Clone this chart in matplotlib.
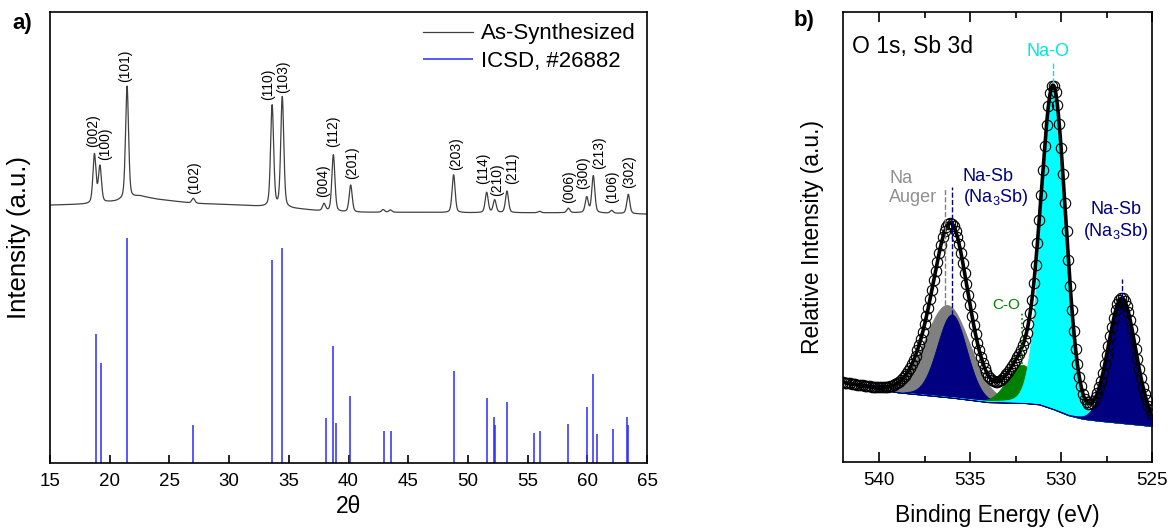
import numpy as np
import matplotlib.pyplot as plt

plt.rcParams['font.family'] = ['Liberation Sans', 'DejaVu Sans']
plt.rcParams['mathtext.default'] = 'regular'

# ---- panel a: XRD (intensity in axis fraction)
xrd_pos = [18.72, 19.18, 21.45, 27.0, 33.6, 34.45, 37.95, 38.73, 40.18, 42.9, 43.5,
           48.8, 51.57, 52.24, 53.27, 56.0, 58.41, 59.95, 60.5, 62.04, 63.43]
xrd_amp = [0.108, 0.080, 0.250, 0.011, 0.225, 0.245, 0.016, 0.126, 0.060, 0.006, 0.005,
           0.084, 0.045, 0.028, 0.048, 0.003, 0.010, 0.034, 0.082, 0.006, 0.043]
xrd_bg_x = [15, 18, 20.5, 22.5, 24, 27, 31, 33, 36, 38, 40, 45, 50, 55, 60, 65]
xrd_bg_y = [0.572, 0.574, 0.580, 0.592, 0.585, 0.576, 0.572, 0.568, 0.563, 0.558,
            0.556, 0.556, 0.555, 0.555, 0.555, 0.552]

hkl = ['(002)', '(100)', '(101)', '(102)', '(110)', '(103)', '(004)', '(112)', '(201)',
       '(203)', '(114)', '(210)', '(211)', '(006)', '(300)', '(213)', '(106)', '(302)']
hkl_x = [18.6, 19.63, 21.28, 27.09, 33.23, 34.54, 37.9, 38.73, 40.27,
         48.98, 51.24, 52.41, 53.69, 58.5, 59.61, 60.98, 62.04, 63.47]
hkl_y = [0.702, 0.673, 0.845, 0.596, 0.805, 0.820, 0.590, 0.700, 0.629,
         0.650, 0.619, 0.592, 0.619, 0.576, 0.608, 0.653, 0.577, 0.609]

icsd_pos = [18.83, 19.30, 21.47, 27.0, 33.62, 34.46, 38.09, 38.73, 38.98, 40.15, 42.97,
            43.53, 48.84, 51.6, 52.19, 52.3, 53.27, 55.51, 56.04, 58.41, 59.97, 60.48,
            60.79, 62.13, 63.35, 63.43]
icsd_int = [0.287, 0.221, 0.500, 0.084, 0.450, 0.476, 0.100, 0.259, 0.089, 0.149, 0.071,
            0.071, 0.204, 0.144, 0.102, 0.084, 0.135, 0.067, 0.071, 0.086, 0.124, 0.197,
            0.064, 0.075, 0.103, 0.084]

# ---- panel b: XPS O 1s / Sb 3d fit components
comp_name = ['Na Auger', 'Na-Sb', 'C-O', 'Na-O', 'Na-Sb 2']
comp_center = [536.25, 536.0, 532.15, 530.42, 526.65]
comp_height = [0.205, 0.185, 0.085, 0.71, 0.275]
comp_fwhm = [2.9, 1.9, 1.9, 1.6, 1.75]
comp_eta = [0.05, 0.05, 0.05, 0.08, 0.05]
comp_color = ['#808080', '#000080', '#007f00', '#00ffff', '#000080']
xps_bg_x = [542, 539, 536, 534, 532, 531.2, 530.4, 529.6, 528.8, 528, 525]
xps_bg_y = [0.176, 0.155, 0.143, 0.133, 0.131, 0.128, 0.117, 0.104, 0.096, 0.092, 0.080]


def pvoigt(x, c, h, w, eta):
    g = np.exp(-4 * np.log(2) * ((x - c) / w) ** 2)
    l = 1 / (1 + 4 * ((x - c) / w) ** 2)
    return h * ((1 - eta) * g + eta * l)


fig = plt.figure(figsize=(11.69, 5.29), dpi=100)

# ================= a) =================
ax = fig.add_axes([0.0428, 0.1248, 0.5107, 0.8522])
tt = np.linspace(15, 65, 5001)
xrd = np.interp(tt, xrd_bg_x, xrd_bg_y)
for p, a in zip(xrd_pos, xrd_amp):
    xrd += pvoigt(tt, p, a, 0.3, 0.35)
ax.plot(tt, xrd, color='#404040', lw=0.9, label='As-Synthesized')
ax.vlines(icsd_pos, 0, icsd_int, color='#2a2aff', lw=1.1, label='ICSD, #26882')
for t, x, y in zip(hkl, hkl_x, hkl_y):
    ax.text(x, y, t, rotation=90, ha='center', va='bottom', fontsize=10)

ax.set_xlim(15, 65)
ax.set_ylim(0, 1)
ax.set_xticks(np.arange(15, 66, 5))
ax.set_yticks([])
ax.tick_params(axis='x', direction='in', length=6, width=1.2, labelsize=13.5, pad=7)
for s in ax.spines.values():
    s.set_linewidth(1.2)
ax.set_xlabel('2θ', fontsize=16.5)
ax.set_ylabel('Intensity (a.u.)', fontsize=18.5)
ax.xaxis.set_label_coords(0.5, -0.072)
ax.yaxis.set_label_coords(-0.032, 0.5)
ax.legend(loc='upper right', frameon=False, fontsize=16, handlelength=2.25,
          handletextpad=0.36, labelspacing=0.3, borderaxespad=0.1)
fig.text(0.019, 0.955, 'a)', fontsize=16, fontweight='bold', ha='center', va='center')

# ================= b) =================
bx = fig.add_axes([0.7209, 0.1267, 0.2646, 0.85])
be = np.linspace(542, 525, 1701)
bg = np.interp(be, xps_bg_x[::-1], xps_bg_y[::-1])
curves = [pvoigt(be, c, h, w, e) for c, h, w, e in
          zip(comp_center, comp_height, comp_fwhm, comp_eta)]
for y, col in zip(curves, comp_color):
    bx.fill_between(be, bg, bg + y, color=col, lw=0.6, zorder=2)
env = bg + np.sum(curves, axis=0)
bx.plot(be, env, color='black', lw=2.6, zorder=3)

be_pts = np.linspace(542, 525, 171)
pts = np.interp(be_pts, be[::-1], env[::-1])
bx.plot(be_pts, pts, 'o', mfc='none', mec='black', ms=7.5, mew=0.8, zorder=4)

# dashed markers above each component
bx.plot([536.37, 536.37], [0.349, 0.611], ls='--', color='#808080', lw=1, zorder=5)
bx.plot([536.0, 536.0], [0.327, 0.611], ls='--', color='#000080', lw=1, zorder=5)
bx.plot([532.15, 532.15], [0.219, 0.334], ls=':', color='#007f00', lw=1.2, zorder=5)
bx.plot([530.42, 530.42], [0.842, 0.89], ls='--', color='#00e5e5', lw=1, zorder=5)
bx.plot([526.65, 526.65], [0.364, 0.407], ls='--', color='#000080', lw=1, zorder=5)

bx.text(541.5, 0.925, 'O 1s, Sb 3d', fontsize=16.5, va='center')
bx.text(530.73, 0.912, 'Na-O', fontsize=13, color='#00e5e5', ha='center', va='center')
bx.text(539.45, 0.61, 'Na\nAuger', fontsize=13, color='#909090', va='center',
        linespacing=1.15)
bx.text(535.4, 0.61, 'Na-Sb\n(Na$_3$Sb)', fontsize=13, color='#000080', va='center',
        linespacing=1.15)
bx.text(527.0, 0.535, 'Na-Sb\n(Na$_3$Sb)', fontsize=13, color='#000080', va='center',
        ha='center', linespacing=1.15)
bx.text(533.8, 0.349, 'C-O', fontsize=11, color='#007f00', va='center')

bx.set_xlim(542, 525)
bx.set_ylim(0, 1)
bx.set_xticks([540, 535, 530, 525])
bx.set_xticks([537.5, 532.5, 527.5], minor=True)
bx.set_yticks([])
bx.tick_params(axis='x', which='both', direction='in', top=True, width=1.2,
               labelsize=13.5, pad=7)
bx.tick_params(axis='x', which='major', length=7)
bx.tick_params(axis='x', which='minor', length=4)
for s in bx.spines.values():
    s.set_linewidth(1.2)
bx.set_xlabel('Binding Energy (eV)', fontsize=16.5)
bx.set_ylabel('Relative Intensity (a.u.)', fontsize=16.5)
bx.xaxis.set_label_coords(0.5, -0.094)
bx.yaxis.set_label_coords(-0.06, 0.5)
fig.text(0.688, 0.962, 'b)', fontsize=16, fontweight='bold', ha='center', va='center')

plt.savefig('out.png', dpi=100)
